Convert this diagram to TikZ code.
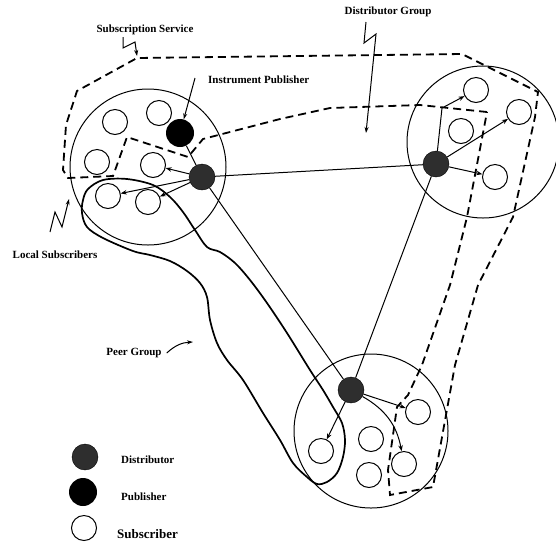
\documentclass[tikz,border=0pt]{standalone}
\usepackage{fontspec}
\setmainfont{Liberation Serif}
\usetikzlibrary{arrows.meta, positioning}

\begin{document}
\begin{tikzpicture}[
    x=1pt, y=-1pt,
    cluster/.style={circle, draw, line width=1pt, inner sep=0pt},
    subscriber/.style={circle, draw, line width=1pt, minimum size=25pt, inner sep=0pt},
    publisher/.style={circle, fill=black, minimum size=28pt, inner sep=0pt},
    distributor/.style={circle, draw, fill=black!82, minimum size=26pt, inner sep=0pt},
    caption/.style={font=\fontsize{11}{13}\selectfont\bfseries, inner sep=1pt},
    link/.style={line width=1pt},
    feed/.style={-{Stealth[length=6pt, width=4.5pt]}, line width=1pt},
    pointer/.style={-{Stealth[length=6pt, width=4pt]}, line width=1pt},
    boundary/.style={line width=1.8pt, dash pattern=on 8pt off 5pt},
    peer/.style={line width=1.7pt}
]
\useasboundingbox (0,0) rectangle (556,542);

% --- the three local groups ---
\node[cluster, minimum size=156pt] (westgrp)  at (148,167) {};
\node[cluster, minimum size=152pt] (eastgrp)  at (483,142) {};
\node[cluster, minimum size=154pt] (southgrp) at (371,431) {};

% --- subscribers ---
\node[subscriber] (w1) at (115,122) {};
\node[subscriber] (w2) at (159,113) {};
\node[subscriber] (w3) at (97,162)  {};
\node[subscriber] (w4) at (153,165) {};
\node[subscriber] (w5) at (108,196) {};
\node[subscriber] (w6) at (148,202) {};

\node[subscriber] (e1) at (476,90)  {};
\node[subscriber] (e2) at (519,112) {};
\node[subscriber] (e3) at (461,131) {};
\node[subscriber] (e4) at (495,177) {};

\node[subscriber] (s1) at (418,412) {};
\node[subscriber] (s2) at (371,439) {};
\node[subscriber] (s3) at (321,451) {};
\node[subscriber] (s4) at (404,464) {};
\node[subscriber] (s5) at (369,475) {};

% --- publisher and distributors ---
\node[publisher]   (pub) at (180,133) {};
\node[distributor] (dw)  at (202,177) {};
\node[distributor] (de)  at (436,164) {};
\node[distributor] (ds)  at (351,390) {};

% --- subscription service boundary ---
\draw[boundary] (487,112) -- (420,105) -- (330,108) -- (280,119) -- (203,139)
    -- (188,157) -- (127,137) -- (113,176) -- (68,178) -- (63,170) -- (66,125)
    -- (77,91) -- (137,58) -- (462,54) -- (538,92) -- (535,117) -- (513,217)
    -- (478,285) -- (455,365) -- (433,487) -- (390,495) -- (388,470) -- (397,407)
    -- (408,395) -- (422,365) -- (450,285) -- (467,217) -- cycle;

% --- peer group ---
\draw[peer] plot[smooth cycle, tension=0.55] coordinates {
    (88,189) (103,180) (127,179) (153,185) (170,197) (183,212) (195,230)
    (207,247) (220,252) (235,263) (250,280) (267,303) (287,333) (310,370)
    (323,390) (333,407) (342,423) (345,440) (343,457) (337,473) (327,482)
    (317,484) (307,477) (293,463) (280,440) (263,413) (243,380) (227,360)
    (217,343) (210,320) (207,297) (200,283) (187,271) (170,261) (150,255)
    (133,251) (103,238) (87,227) (82,213) (83,200)};

% --- links between distributors ---
\draw[link] (pub) -- (dw);
\draw[link] (dw) -- (de);
\draw[link] (dw) -- (ds);
\draw[link] (de) -- (ds);

% --- deliveries to subscribers ---
\draw[feed] (dw) -- (w4);
\draw[feed] (dw) -- (w5);
\draw[feed] (dw) -- (w6);

\draw[feed] (de) -- (442,108) -- (e1);
\draw[feed] (de) -- (e2);
\draw[feed] (de) -- (e4);

\draw[feed] (ds) -- (s1);
\draw[feed] (ds) -- (s3);
\draw[feed] (ds) to[bend left=25] (s4);

% --- labels ---
\node[caption] (subsvc)   at (145,30)  {Subscription Service};
\node[caption, anchor=west] (instpub) at (207,80) {Instrument Publisher};
\node[caption] (distgrp)  at (388,12)  {Distributor Group};
\node[caption] (localsub) at (55,255)  {Local Subscribers};
\node[caption] (peergrp)  at (134,353) {Peer Group};

\coordinate (subtip)  at (137,56);
\coordinate (disttip) at (366,133);
\coordinate (loctip)  at (69,199);
\coordinate (peertip) at (193,342);

\draw[pointer] (123,37) -- (123,48) -- (135,42) -- (subtip);
\draw[pointer] (366,22) -- (364,43) -- (376,34) -- (disttip);
\draw[pointer] (50,232) -- (55,212) -- (62,227) -- (loctip);
\draw[pointer] (195,78) -- (pub);
\draw[pointer] (peergrp.east) ++(4,0) to[bend left=20] (peertip);

% --- legend ---
\node[distributor] (legdist) at (85,457) {};
\node[publisher]   (legpub)  at (83,492) {};
\node[subscriber]  (legsub)  at (84,528) {};
\node[caption, anchor=west] (legdisttxt) at (120,460) {Distributor};
\node[caption, anchor=west] (legpubtxt)  at (120,497) {Publisher};
\node[caption, anchor=west, font=\fontsize{13}{15}\selectfont\bfseries] (legsubtxt) at (116,534) {Subscriber};

\end{tikzpicture}
\end{document}
